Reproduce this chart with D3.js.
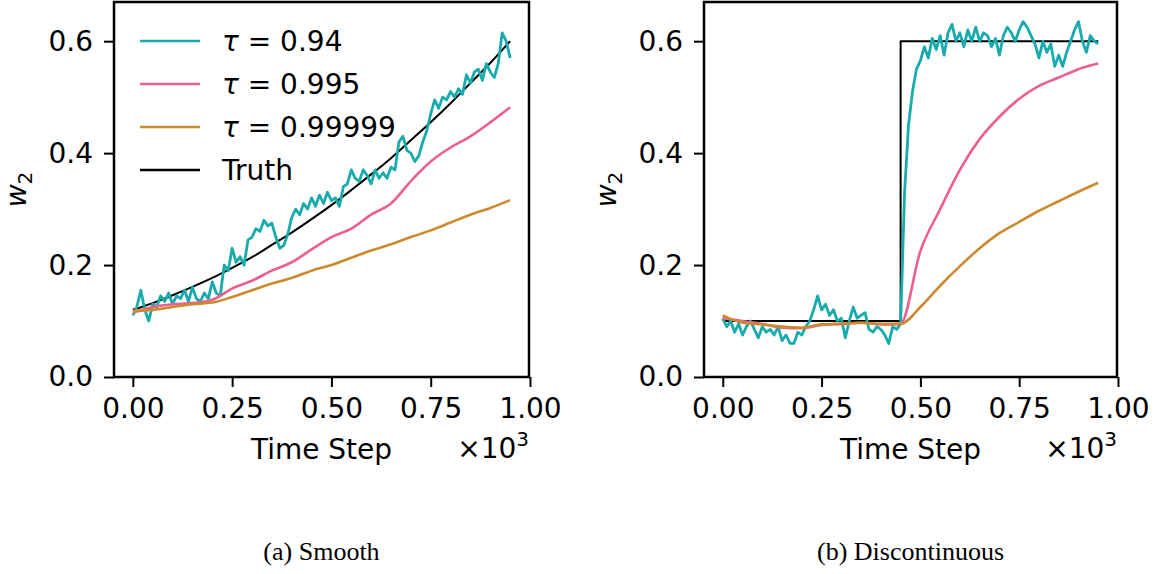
<!DOCTYPE html>
<html>
<head>
<meta charset="utf-8">
<script src="https://cdn.jsdelivr.net/npm/d3@7"></script>
<style>
  body { margin: 0; background: #fff; }
  svg { font-family: "DejaVu Sans", sans-serif; }
</style>
</head>
<body>
<svg id="chart" width="1161" height="574"></svg>
<script>
// шаги по оси ОХ
const stepsFine = d3.range(0, 951, 10);     // для шумной линии
const stepsCoarse = d3.range(0, 951, 50);   // для гладких линий

const xTicks = [0, 250, 500, 750, 1000];
const yTicks = [0, 0.2, 0.4, 0.6];

const seriesNames = ["τ = 0.94", "τ = 0.995", "τ = 0.99999", "Truth"];
const seriesColors = ["#17abad", "#ec5f8f", "#cc8a2e", "#000000"];

// (a) Smooth
const smoothTau094 = [
  0.110, 0.125, 0.155, 0.120, 0.100, 0.130, 0.125, 0.145, 0.135, 0.150,
  0.130, 0.145, 0.140, 0.155, 0.135, 0.160, 0.140, 0.135, 0.150, 0.140,
  0.170, 0.150, 0.145, 0.200, 0.190, 0.230, 0.205, 0.215, 0.200, 0.245,
  0.250, 0.265, 0.260, 0.280, 0.270, 0.275, 0.250, 0.230, 0.235, 0.255,
  0.285, 0.300, 0.290, 0.310, 0.300, 0.320, 0.305, 0.325, 0.310, 0.330,
  0.315, 0.320, 0.305, 0.340, 0.345, 0.370, 0.355, 0.350, 0.370, 0.360,
  0.345, 0.370, 0.355, 0.365, 0.355, 0.375, 0.370, 0.420, 0.430, 0.405,
  0.400, 0.385, 0.395, 0.420, 0.440, 0.470, 0.495, 0.480, 0.500, 0.495,
  0.510, 0.500, 0.515, 0.505, 0.540, 0.525, 0.545, 0.550, 0.530, 0.560,
  0.545, 0.535, 0.560, 0.615, 0.600, 0.570
];
const smoothTau0995 = [
  0.115, 0.125, 0.130, 0.132, 0.138, 0.158, 0.172, 0.190, 0.205, 0.228,
  0.250, 0.265, 0.290, 0.310, 0.350, 0.385, 0.410, 0.430, 0.455, 0.482
];
const smoothTau099999 = [
  0.118, 0.120, 0.125, 0.130, 0.133, 0.143, 0.155, 0.167, 0.177, 0.190,
  0.200, 0.213, 0.226, 0.237, 0.250, 0.262, 0.276, 0.290, 0.302, 0.316
];
const smoothTruth = [
  0.120, 0.132, 0.146, 0.161, 0.177, 0.195, 0.214, 0.236, 0.258, 0.282,
  0.307, 0.334, 0.362, 0.391, 0.423, 0.455, 0.489, 0.525, 0.561, 0.600
];

// (b) Discontinuous
const discTau094 = [
  0.105, 0.090, 0.100, 0.080, 0.095, 0.075, 0.090, 0.100, 0.085, 0.070,
  0.090, 0.080, 0.085, 0.075, 0.090, 0.065, 0.075, 0.060, 0.060, 0.080,
  0.075, 0.090, 0.100, 0.120, 0.145, 0.120, 0.130, 0.110, 0.120, 0.100,
  0.105, 0.070, 0.100, 0.125, 0.105, 0.110, 0.115, 0.085, 0.080, 0.090,
  0.085, 0.075, 0.060, 0.090, 0.085, 0.095, 0.330, 0.450, 0.510, 0.550,
  0.565, 0.590, 0.570, 0.605, 0.585, 0.610, 0.575, 0.615, 0.630, 0.600,
  0.615, 0.590, 0.620, 0.600, 0.625, 0.600, 0.615, 0.610, 0.590, 0.605,
  0.575, 0.610, 0.625, 0.615, 0.600, 0.620, 0.635, 0.625, 0.610, 0.595,
  0.570, 0.600, 0.580, 0.595, 0.555, 0.575, 0.555, 0.580, 0.600, 0.620,
  0.635, 0.600, 0.580, 0.610, 0.600, 0.595
];
const discTau0995 = [
  0.105, 0.100, 0.095, 0.088, 0.087, 0.093, 0.095, 0.097, 0.094, 0.095,
  0.225, 0.300, 0.370, 0.425, 0.465, 0.497, 0.520, 0.535, 0.550, 0.560
];
const discTau099999 = [
  0.110, 0.097, 0.094, 0.090, 0.088, 0.094, 0.095, 0.097, 0.095, 0.095,
  0.125, 0.163, 0.198, 0.230, 0.257, 0.277, 0.297, 0.314, 0.331, 0.347
];
const discTruthSteps = [0, 450, 450, 950];
const discTruth = [0.1, 0.1, 0.6, 0.6];

const svg = d3.select("#chart");
const fs = 28;

function drawPanel(left, right, caption, lines, withLegend) {
    const top = 2, bottom = 377;

    let scX = d3.scaleLinear().domain([-47.5, 997.5]).range([left, right]);
    let scY = d3.scaleLinear().domain([0, 0.67]).range([bottom, top]);

    // оси
    let axisX = d3.axisBottom(scX).tickValues(xTicks).tickSize(10).tickPadding(11)
        .tickFormat(d => (d / 1000).toFixed(2));
    let axisY = d3.axisLeft(scY).tickValues(yTicks).tickSize(10).tickPadding(11)
        .tickFormat(d => d.toFixed(1));

    let gx = svg.append("g").attr("transform", `translate(0, ${bottom})`).call(axisX);
    let gy = svg.append("g").attr("transform", `translate(${left}, 0)`).call(axisY);
    for (let g of [gx, gy]) {
        g.select(".domain").remove();
        g.selectAll("line").attr("stroke", "#000").attr("stroke-width", 2);
        g.selectAll("text").attr("font-size", fs).attr("font-family", "DejaVu Sans").attr("fill", "#000");
    }

    // линии
    for (let ln of lines) {
        let pts = ln.steps.map((s, i) => [s, ln.values[i]]);
        svg.append("path")
            .datum(pts)
            .attr("fill", "none")
            .attr("stroke", ln.color)
            .attr("stroke-width", ln.width)
            .attr("stroke-linejoin", "round")
            .attr("d", d3.line()
                .x(d => scX(d[0]))
                .y(d => scY(d[1]))
                .curve(ln.curve));
    }

    // рамка
    svg.append("rect")
        .attr("x", left).attr("y", top)
        .attr("width", right - left).attr("height", bottom - top)
        .attr("fill", "none").attr("stroke", "#000").attr("stroke-width", 2.5);

    // подписи осей
    svg.append("text")
        .attr("x", (left + right) / 2).attr("y", 459)
        .attr("text-anchor", "middle").attr("font-size", fs)
        .text("Time Step");

    let off = svg.append("text")
        .attr("x", right).attr("y", 458)
        .attr("text-anchor", "end").attr("font-size", fs);
    off.append("tspan").text("×10");
    off.append("tspan").attr("font-size", 20).attr("dy", -12).text("3");

    let yl = svg.append("text")
        .attr("transform", `translate(${left - 88}, ${(top + bottom) / 2}) rotate(-90)`)
        .attr("text-anchor", "middle").attr("font-size", fs);
    yl.append("tspan").attr("font-style", "italic").text("w");
    yl.append("tspan").attr("font-size", 20).attr("dy", 6).text("2");

    svg.append("text")
        .attr("x", (left + right) / 2).attr("y", 560)
        .attr("text-anchor", "middle")
        .attr("font-family", "Liberation Serif, serif")
        .attr("font-size", 26)
        .text(caption);

    if (withLegend) {
        seriesNames.forEach((name, i) => {
            let y = 41 + i * 43;
            svg.append("line")
                .attr("x1", left + 26).attr("x2", left + 86)
                .attr("y1", y).attr("y2", y)
                .attr("stroke", seriesColors[i]).attr("stroke-width", 2.5);
            let t = svg.append("text")
                .attr("x", left + 108).attr("y", y).attr("dy", "0.36em")
                .attr("font-size", fs);
            if (name.startsWith("τ")) {
                t.append("tspan").attr("font-style", "italic").text("τ");
                t.append("tspan").text(" = " + name.split("= ")[1]);
            } else {
                t.text(name);
            }
        });
    }
}

drawPanel(114, 529, "(a) Smooth", [
    {steps: stepsCoarse, values: smoothTruth, color: seriesColors[3], width: 2, curve: d3.curveMonotoneX},
    {steps: stepsFine, values: smoothTau094, color: seriesColors[0], width: 2.8, curve: d3.curveLinear},
    {steps: stepsCoarse, values: smoothTau0995, color: seriesColors[1], width: 2.6, curve: d3.curveMonotoneX},
    {steps: stepsCoarse, values: smoothTau099999, color: seriesColors[2], width: 2.6, curve: d3.curveMonotoneX}
], true);

drawPanel(704, 1117, "(b) Discontinuous", [
    {steps: discTruthSteps, values: discTruth, color: seriesColors[3], width: 2, curve: d3.curveLinear},
    {steps: stepsFine, values: discTau094, color: seriesColors[0], width: 2.8, curve: d3.curveLinear},
    {steps: stepsCoarse, values: discTau0995, color: seriesColors[1], width: 2.6, curve: d3.curveMonotoneX},
    {steps: stepsCoarse, values: discTau099999, color: seriesColors[2], width: 2.6, curve: d3.curveMonotoneX}
], false);
</script>
</body>
</html>
